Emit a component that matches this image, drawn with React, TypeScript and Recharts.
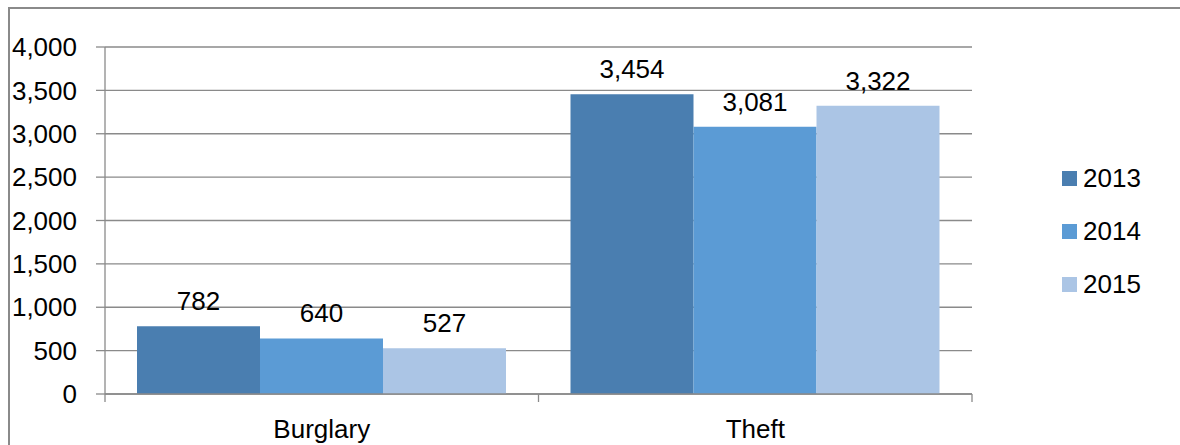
import React from 'react';
import { BarChart, Bar, XAxis, YAxis, CartesianGrid, Legend, LabelList } from 'recharts';

const categories = ['Burglary', 'Theft'];
const years = ['2013', '2014', '2015'];
const values2013 = [782, 3454];
const values2014 = [640, 3081];
const values2015 = [527, 3322];
const yTicks = [0, 500, 1000, 1500, 2000, 2500, 3000, 3500, 4000];

const colors = ['#4a7eb0', '#5b9bd5', '#abc5e5'];
const seriesValues = [values2013, values2014, values2015];

const data = categories.map((name, i) => {
  const row: { [key: string]: string | number } = { name };
  years.forEach((y, s) => {
    row[y] = seriesValues[s][i];
  });
  return row;
});

const FONT = '"Liberation Sans", Arial, sans-serif';
const GRID = '#8a8a8a';
const FS = 26;

const fmt = (v: any) => Number(v).toLocaleString('en-US');

// category ticks sit on the band edges, label in the middle
const CategoryTick = (props: any) => {
  const { x, y, payload, index, width, visibleTicksCount } = props;
  const count = visibleTicksCount || categories.length;
  const half = width / count / 2;
  const last = index === count - 1;
  return (
    <g>
      <line x1={x - half} y1={y} x2={x - half} y2={y + 8} stroke={GRID} strokeWidth={1.3} />
      {last && <line x1={x + half} y1={y} x2={x + half} y2={y + 8} stroke={GRID} strokeWidth={1.3} />}
      <text x={x} y={y + 44} textAnchor="middle" fontSize={FS} fontFamily={FONT} fill="#000">
        {payload.value}
      </text>
    </g>
  );
};

const LegendBox = () => (
  <div style={{ fontFamily: FONT, fontSize: FS, color: '#000' }}>
    {years.map((y, i) => (
      <div key={y} style={{ display: 'flex', alignItems: 'center', height: 53 }}>
        <span style={{ display: 'inline-block', width: 15, height: 15, background: colors[i], marginRight: 6 }} />
        <span>{y}</span>
      </div>
    ))}
  </div>
);

export default function App() {
  return (
    <div style={{ width: 1172, height: 437 }}>
      <BarChart
        width={1172}
        height={437}
        data={data}
        margin={{ top: 39, right: 208, left: 0, bottom: 11 }}
        barGap={0}
        barCategoryGap={32}
      >
        <CartesianGrid vertical={false} stroke={GRID} strokeWidth={1.3} />
        <YAxis
          width={97}
          domain={[0, 4000]}
          ticks={yTicks}
          tickFormatter={fmt}
          axisLine={{ stroke: GRID, strokeWidth: 1.3 }}
          tickLine={{ stroke: GRID, strokeWidth: 1.3 }}
          tickSize={9}
          tickMargin={19}
          tick={{ fontSize: FS, fontFamily: FONT, fill: '#000' }}
          interval={0}
        />
        <XAxis
          dataKey="name"
          height={40}
          axisLine={{ stroke: GRID, strokeWidth: 1.3 }}
          tickLine={false}
          tickSize={0}
          tickMargin={0}
          tick={<CategoryTick />}
          interval={0}
        />
        <Legend
          layout="vertical"
          align="center"
          verticalAlign="middle"
          wrapperStyle={{ left: 1054, top: 144, width: 120 }}
          content={<LegendBox />}
        />
        {years.map((y, i) => (
          <Bar key={y} dataKey={y} fill={colors[i]} isAnimationActive={false}>
            <LabelList
              dataKey={y}
              position="top"
              offset={16}
              formatter={fmt}
              style={{ fontSize: FS, fontFamily: FONT, fill: '#000' }}
            />
          </Bar>
        ))}
      </BarChart>
      {/* outer frame, only its left and top edges fall inside the picture */}
      <div
        style={{
          position: 'fixed',
          left: 8,
          top: 7,
          width: 1172,
          height: 438,
          borderLeft: `2px solid ${GRID}`,
          borderTop: `2px solid ${GRID}`,
          boxSizing: 'border-box',
          pointerEvents: 'none',
        }}
      />
    </div>
  );
}
